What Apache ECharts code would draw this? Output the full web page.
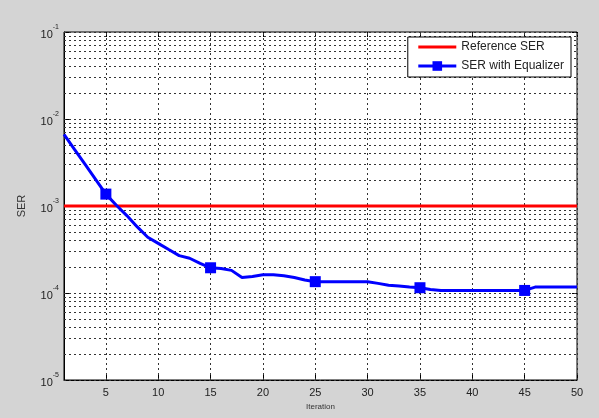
<!DOCTYPE html>
<html>
<head>
<meta charset="utf-8">
<script src="https://cdn.jsdelivr.net/npm/echarts@6/dist/echarts.min.js"></script>
<style>
html,body{margin:0;padding:0;background:#d4d4d4;}
#chart{width:599px;height:418px;}
</style>
</head>
<body>
<div id="chart"></div>
<script>
const iterations = [1,2,3,4,5,6,7,8,9,10,11,12,13,14,15,16,17,18,19,20,21,22,23,24,25,26,27,28,29,30,31,32,33,34,35,36,37,38,39,40,41,42,43,44,45,46,47,48,49,50];
const serWithEqualizer = [6.65e-3,4.47e-3,3.02e-3,2.04e-3,1.37e-3,1.02e-3,7.76e-4,5.75e-4,4.37e-4,3.72e-4,
  3.16e-4,2.69e-4,2.51e-4,2.19e-4,1.95e-4,1.91e-4,1.82e-4,1.51e-4,1.55e-4,1.62e-4,
  1.62e-4,1.58e-4,1.51e-4,1.41e-4,1.35e-4,1.35e-4,1.35e-4,1.35e-4,1.35e-4,1.35e-4,
  1.29e-4,1.23e-4,1.20e-4,1.17e-4,1.15e-4,1.10e-4,1.07e-4,1.07e-4,1.07e-4,1.07e-4,
  1.07e-4,1.07e-4,1.07e-4,1.07e-4,1.07e-4,1.17e-4,1.17e-4,1.17e-4,1.17e-4,1.17e-4];
const markerIterations = [5,15,25,35,45];
const referenceSER = 1e-3;
const xTickValues = [5,10,15,20,25,30,35,40,45,50];
const yDecades = [1e-5,1e-4,1e-3,1e-2,1e-1];
const seriesNames = ['Reference SER','SER with Equalizer'];

const FONT = 'Arial, "Liberation Sans", sans-serif';
const gridLineStyle = {color:'#333', type:[2,3], width:1};
const gridMarks = [];
xTickValues.forEach(v => gridMarks.push({xAxis:v}));
yDecades.forEach((d, i) => {
  gridMarks.push({yAxis:d});
  if (i < yDecades.length - 1) {
    for (let k = 2; k <= 9; k++) gridMarks.push({yAxis: +(k*d).toPrecision(3)});
  }
});

const blueData = iterations.map((x, i) => {
  const item = {value:[x, serWithEqualizer[i]]};
  if (markerIterations.indexOf(x) < 0) item.symbol = 'none';
  return item;
});

const chart = echarts.init(document.getElementById('chart'));
chart.setOption({
  backgroundColor:'#d4d4d4',
  animation:false,
  textStyle:{fontFamily:FONT},
  grid:{left:64, right:22, top:32, bottom:38, show:true, backgroundColor:'#fff', borderColor:'#000', borderWidth:1},
  legend:{
    data:[
      {name:seriesNames[0], itemStyle:{opacity:0}, lineStyle:{width:3}},
      {name:seriesNames[1], lineStyle:{width:3}}
    ],
    orient:'vertical', right:28, top:37, z:20,
    itemWidth:38, itemHeight:12, itemGap:7, padding:[4,7,5,9],
    backgroundColor:'#fff', borderColor:'#000', borderWidth:1, borderRadius:0,
    textStyle:{fontSize:12, color:'#222', fontFamily:FONT}
  },
  xAxis:[{
    type:'value', min:1, max:50,
    name:'Iteration', nameLocation:'middle', nameGap:23,
    nameTextStyle:{fontSize:8, color:'#333'},
    axisLine:{lineStyle:{color:'#000'}},
    axisTick:{inside:true, length:5, customValues:xTickValues, lineStyle:{color:'#000'}},
    axisLabel:{customValues:xTickValues, fontSize:11, color:'#222', margin:7},
    splitLine:{show:false}
  },{
    type:'value', min:1, max:50, position:'top',
    axisLine:{show:false},
    axisTick:{inside:true, length:5, customValues:xTickValues, lineStyle:{color:'#000'}},
    axisLabel:{show:false},
    splitLine:{show:false}
  }],
  yAxis:[{
    type:'log', logBase:10, min:1e-5, max:1e-1,
    name:'SER', nameLocation:'middle', nameGap:37,
    nameTextStyle:{fontSize:11, color:'#333'},
    axisLine:{lineStyle:{color:'#000'}},
    axisTick:{inside:true, length:5, lineStyle:{color:'#000'}},
    axisLabel:{
      margin:5, color:'#222',
      formatter: v => '{b|10}{s|' + Math.round(Math.log10(v)) + '}',
      rich:{
        b:{fontSize:11, color:'#222', verticalAlign:'bottom', lineHeight:17},
        s:{fontSize:7, color:'#222', verticalAlign:'top', lineHeight:17}
      }
    },
    splitLine:{show:false}
  },{
    type:'log', logBase:10, min:1e-5, max:1e-1, position:'right',
    axisLine:{show:false},
    axisTick:{inside:true, length:5, lineStyle:{color:'#000'}},
    axisLabel:{show:false},
    splitLine:{show:false}
  }],
  series:[
    {
      name:'grid', type:'line', data:[[1, referenceSER]], symbol:'none', silent:true,
      lineStyle:{opacity:0}, z:1,
      markLine:{silent:true, symbol:'none', precision:12, z:1, label:{show:false}, lineStyle:gridLineStyle, data:gridMarks, animation:false}
    },
    {
      name:seriesNames[0], type:'line', symbol:'none', z:3,
      data:[[iterations[0], referenceSER],[iterations[iterations.length-1], referenceSER]],
      lineStyle:{color:'#ff0000', width:3}, itemStyle:{color:'#ff0000'}
    },
    {
      name:seriesNames[1], type:'line', symbol:'rect', symbolSize:11, showAllSymbol:true, z:4,
      data:blueData,
      lineStyle:{color:'#0000ff', width:3}, itemStyle:{color:'#0000ff'}
    }
  ]
});
</script>
</body>
</html>
